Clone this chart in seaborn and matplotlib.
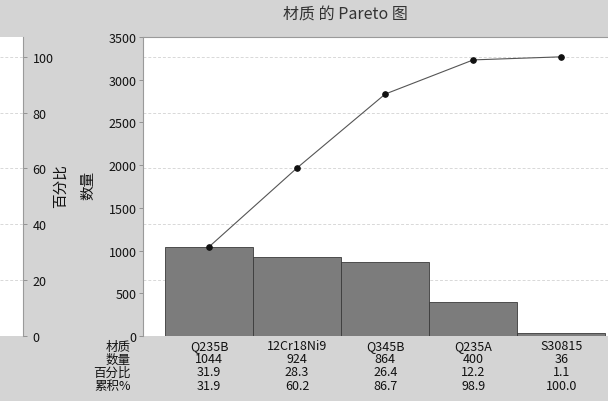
import numpy as np
import matplotlib
matplotlib.use("Agg")
import matplotlib.pyplot as plt
import seaborn as sns

materials = ["Q235B", "12Cr18Ni9", "Q345B", "Q235A", "S30815"]
counts = [1044, 924, 864, 400, 36]
percents = [31.9, 28.3, 26.4, 12.2, 1.1]
cum_percents = [31.9, 60.2, 86.7, 98.9, 100.0]
row_labels = ["材质", "数量", "百分比", "累积%"]
title = "材质 的 Pareto 图"
count_ticks = [0, 500, 1000, 1500, 2000, 2500, 3000, 3500]
pct_ticks = [0, 20, 40, 60, 80, 100]

sns.set_theme(style="white")
plt.rcParams['font.family'] = ['Noto Sans CJK SC', 'DejaVu Sans']

W, H = 608, 402
fig = plt.figure(figsize=(W / 100, H / 100), dpi=100)
bg = "#d4d4d4"
fig.patch.set_facecolor(bg)

y_bot = 337
y_top = 38
count_max = 3500
total = sum(counts)
cum_counts = np.cumsum(counts)
fs = 9

def fy(y):
    return 1 - y / H

ax_b = fy(y_bot)
ax_h = fy(y_top) - fy(y_bot)

# main axes
ax = fig.add_axes([143 / W, ax_b, 1 - 143 / W, ax_h])
ax.set_facecolor("white")
sns.barplot(x=materials, y=counts, width=1.0, color="#7c7c7c", saturation=1,
            edgecolor="#3a3a3a", linewidth=0.6, ax=ax, zorder=3)
sns.lineplot(x=list(range(len(materials))), y=list(cum_counts), color="#555555",
             linewidth=0.8, marker="o", markersize=4, markerfacecolor="#111111",
             markeredgecolor="#111111", ax=ax, zorder=4)
ax.set_xlim(-0.75, 4.53)
ax.set_ylim(0, count_max)
ax.set_yticks(count_ticks)
ax.set_yticklabels([str(t) for t in count_ticks], fontsize=fs, color="#111111")
ax.set_xticks([])
ax.set_xlabel("")
ax.set_ylabel("")
ax.tick_params(axis="y", direction="out", length=3, width=0.6, color="#888888", pad=1.5, left=True)
for s in ["right", "bottom"]:
    ax.spines[s].set_visible(False)
for s in ["left", "top"]:
    ax.spines[s].set_color("#9a9a9a")
    ax.spines[s].set_linewidth(0.8)
for p in pct_ticks[1:]:
    ax.axhline(p / 100 * total, color="#d8d8d8", linestyle=(0, (3, 2)), linewidth=0.7, zorder=1)

# left percent axes (narrow white strip)
ax2 = fig.add_axes([0, ax_b, 23 / W, ax_h])
ax2.set_facecolor("white")
ax2.set_xlim(0, 1)
ax2.set_ylim(0, 100 * count_max / total)
for p in pct_ticks[1:]:
    ax2.axhline(p, color="#d8d8d8", linestyle=(0, (3, 2)), linewidth=0.7)
ax2.set_xticks([])
ax2.yaxis.tick_right()
ax2.set_yticks(pct_ticks)
ax2.set_yticklabels([str(t) for t in pct_ticks], fontsize=fs, color="#111111")
ax2.tick_params(axis="y", direction="out", length=3, width=0.6, color="#888888", pad=4, right=True)
for s in ["left", "top", "bottom"]:
    ax2.spines[s].set_visible(False)
ax2.spines["right"].set_color("#9a9a9a")
ax2.spines["right"].set_linewidth(0.8)

# axis titles
fig.text(61 / W, fy(186), "百分比", rotation=90, ha="center", va="center", fontsize=10.5, color="#111111")
fig.text(88 / W, fy(185), "数量", rotation=90, ha="center", va="center", fontsize=10.5, color="#111111")

# title
fig.text(345 / W, fy(15), title, ha="center", va="center", fontsize=11.5, color="#333333")

# bottom table
rows_y = [347, 360, 373, 387]
row_vals = [materials, [str(c) for c in counts], [f"{p:.1f}" for p in percents],
            [f"{p:.1f}" for p in cum_percents]]
for lab, yy, vals in zip(row_labels, rows_y, row_vals):
    fig.text(131 / W, fy(yy), lab, ha="right", va="center", fontsize=fs, color="#111111")
    for i, v in enumerate(vals):
        xd = ax.transData.transform((i, 0))[0]
        fig.text(xd / fig.bbox.width, fy(yy), v, ha="center", va="center", fontsize=fs, color="#111111")

fig.savefig("out.png", dpi=100, facecolor=bg)
